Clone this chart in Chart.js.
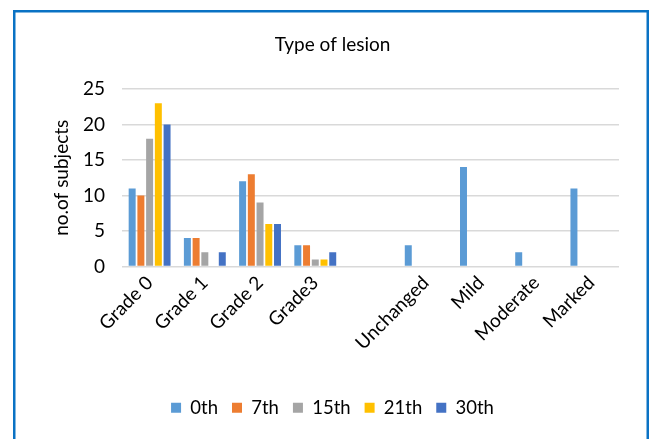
<!DOCTYPE html>
<html>
<head>
<meta charset="utf-8">
<script src="https://cdn.jsdelivr.net/npm/chart.js@4/dist/chart.umd.min.js"></script>
<style>
  html, body { margin: 0; padding: 0; background: #fff; }
  #wrap { position: relative; width: 653px; height: 439px; }
</style>
</head>
<body>
<div id="wrap"><canvas id="c" width="653" height="439"></canvas></div>
<script>
// Lesion categories (blank slot separates grades from change classes)
const categories = ['Grade 0', 'Grade 1', 'Grade 2', 'Grade3', '', 'Unchanged', 'Mild', 'Moderate', 'Marked'];

// Subjects per category on each follow-up day
const day0  = [11, 4, 12, 3, null, 3, 14, 2, 11];
const day7  = [10, 4, 13, 3, null, null, null, null, null];
const day15 = [18, 2, 9, 1, null, null, null, null, null];
const day21 = [23, 0, 6, 1, null, null, null, null, null];
const day30 = [20, 2, 6, 2, null, null, null, null, null];

const seriesNames = ['0th', '7th', '15th', '21th', '30th'];
const seriesColors = ['#5B9BD5', '#ED7D31', '#A5A5A5', '#FFC000', '#4472C4'];
const seriesValues = [day0, day7, day15, day21, day30];

const yTicks = [0, 5, 10, 15, 20, 25];

const FONT = 'Lato, "Open Sans", sans-serif';

// Blue frame round the whole chart
const frame = {
  id: 'frame',
  afterDraw(chart) {
    const ctx = chart.ctx;
    ctx.save();
    ctx.strokeStyle = '#0A72C4';
    ctx.lineWidth = 2.5;
    ctx.strokeRect(14.25, 11.25, 633.5, 440);
    ctx.restore();
  }
};

new Chart(document.getElementById('c'), {
  type: 'bar',
  data: {
    labels: categories,
    datasets: seriesNames.map((name, i) => ({
      label: name,
      data: seriesValues[i],
      backgroundColor: seriesColors[i],
      borderWidth: 0,
      categoryPercentage: 0.79,
      barPercentage: 0.8
    }))
  },
  options: {
    responsive: false,
    animation: false,
    devicePixelRatio: 1,
    layout: { padding: { left: 46, right: 34, top: 33.6, bottom: 12 } },
    plugins: {
      title: {
        display: true,
        text: 'Type of lesion',
        color: '#000',
        font: { family: FONT, size: 19, weight: 'normal' },
        padding: { top: 0, bottom: 32.6 }
      },
      legend: {
        position: 'bottom',
        labels: {
          color: '#000',
          font: { family: FONT, size: 18.5 },
          boxWidth: 10,
          boxHeight: 10,
          padding: 14
        }
      },
      tooltip: { enabled: false }
    },
    scales: {
      x: {
        grid: { display: false, drawTicks: false },
        border: { display: false },
        ticks: {
          color: '#000',
          font: { family: FONT, size: 19 },
          minRotation: 45,
          maxRotation: 45,
          autoSkip: false,
          padding: 5
        },
        afterFit(scale) { scale.height = 118; }
      },
      y: {
        min: 0,
        max: 25,
        afterBuildTicks(scale) { scale.ticks = yTicks.map(v => ({ value: v })); },
        grid: { color: '#D9D9D9', lineWidth: 1.5, drawTicks: false },
        border: { display: false },
        ticks: {
          color: '#000',
          font: { family: FONT, size: 19 },
          padding: 17
        },
        title: {
          display: true,
          text: 'no.of subjects',
          color: '#000',
          font: { family: FONT, size: 19 },
          padding: { top: 4, bottom: 0 }
        },
        afterFit(scale) { scale.width = 76; }
      }
    }
  },
  plugins: [frame]
});
</script>
</body>
</html>
